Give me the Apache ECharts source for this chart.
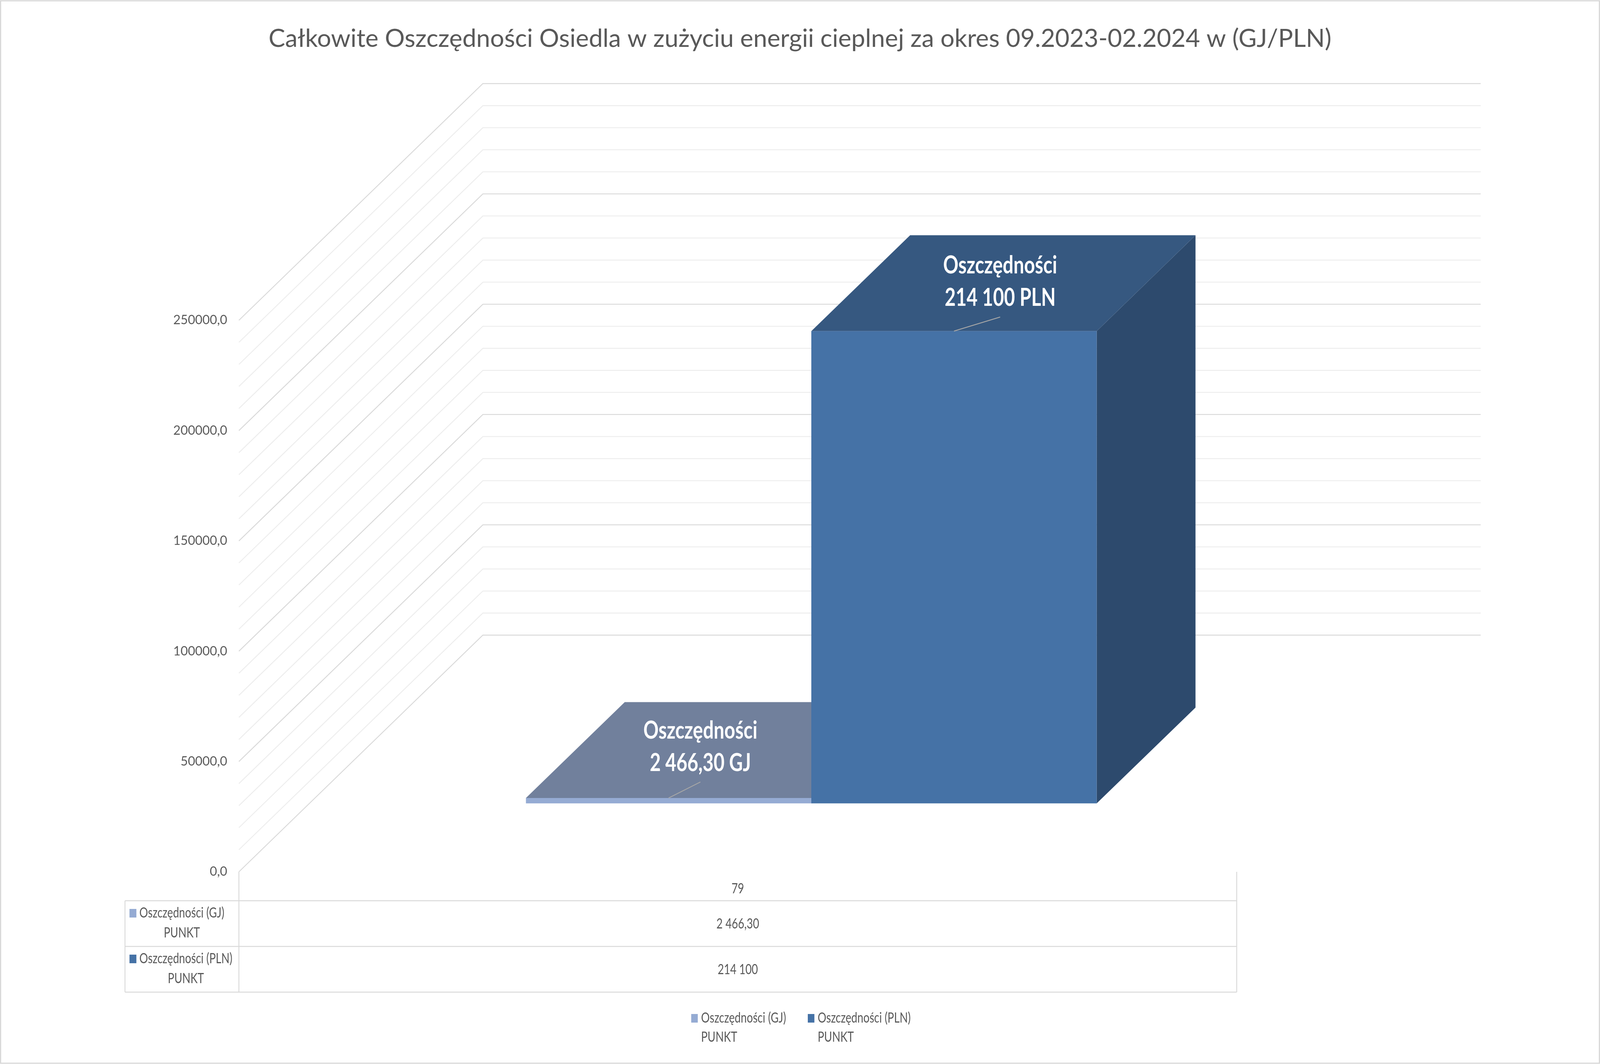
<!DOCTYPE html>
<html>
<head>
<meta charset="utf-8">
<script src="https://cdn.jsdelivr.net/npm/echarts@6/dist/echarts.min.js"></script>
<style>html,body{margin:0;padding:0;background:#fff;overflow:hidden}#c{width:100vw;height:100vh}</style>
</head>
<body>
<div id="c"></div>
<script>
// ---------- data ----------
const chartTitle = 'Całkowite Oszczędności Osiedla w zużyciu energii cieplnej za okres 09.2023-02.2024 w (GJ/PLN)';
const categories = ['79'];
const seriesNames = ['Oszczędności (GJ)', 'Oszczędności (PLN)'];
const seriesSubNames = ['PUNKT', 'PUNKT'];
const valuesGJ = [2466.30];
const valuesPLN = [214100];
const seriesUnits = ['GJ', 'PLN'];
const seriesDecimals = [2, 0];
const labelWord = 'Oszczędności';
const yMin = 0, yMax = 250000, yInterval = 50000, yMinorStep = 10000;

// ---------- layout / style (reference pixel space 5338 x 2724) ----------
const el = document.getElementById('c');
const CW = el.clientWidth || 5338, CH = el.clientHeight || 2724;
const sx = CW / 5338, sy = CH / 2724, fs = Math.min(sx, sy);
const X = v => v * sx, Y = v => v * sy, F = v => v * fs;
const TSX = sx / sy; // horizontal text squeeze so text scales like the frame

const FONT = 'Lato';
const TXT = '#595959';
const GRID_L = 797, GRID_R = 4126, GRID_T = 820, FLOOR_Y = 2232;
const DEPTH_X = X(814), DEPTH_Y = Y(-606);
const BAR_FRONT = 0.289, BAR_BACK = 0.694, BAR_W = 0.286, BAR_SHIFT = 0.003;
const COLORS = [
  {front: '#95abd3', top: '#71809c', side: '#6a80a8'},
  {front: '#4572a6', top: '#365880', side: '#2d4a6d'}
];
const LABEL_OFF = [[106, -131], [154, -126]];
const TABLE_L = 417, ROW_H = 117, ROW1_T = 2306;
const TABLE_B = ROW1_T + ROW_H * 2;
const LEG_X = [2306, 2695], LEG_Y = 2596;
const LW = Math.max(1, 3 * fs);

function fmtNum(v, d) {
  const s = v.toFixed(d);
  const parts = s.split('.');
  const ip = parts[0].replace(/\B(?=(\d{3})+(?!\d))/g, ' ');
  return parts[1] ? ip + ',' + parts[1] : ip;
}

// wall tick values derived from axis settings
const wallTicks = [];
for (let v = yMin; v <= yMax; v += yMinorStep) wallTicks.push([0, v]);

function wallRenderer(params, api) {
  const v = api.value(1);
  const cs = params.coordSys;
  const y = api.coord([0, v])[1];
  const L = cs.x, R = cs.x + cs.width;
  const major = v % yInterval === 0;
  return {
    type: 'polyline', silent: true,
    shape: {points: [[L, y], [L + DEPTH_X, y + DEPTH_Y], [R + DEPTH_X, y + DEPTH_Y]]},
    style: {stroke: major ? '#d9d9d9' : '#ededed', lineWidth: LW, fill: null}
  };
}

function barRenderer(slot, colors, labelOff, unit, dec) {
  return function (params, api) {
    const v = api.value(1);
    const base = api.coord([api.value(0), 0]);
    const top = api.coord([api.value(0), v]);
    const band = api.size([1, 0])[0];
    const w = band * BAR_W;
    const x0 = base[0] + slot * w + BAR_SHIFT * band, x1 = x0 + w;
    const fx = DEPTH_X * BAR_FRONT, fy = DEPTH_Y * BAR_FRONT;
    const bx = DEPTH_X * BAR_BACK, by = DEPTH_Y * BAR_BACK;
    const yb = base[1], yt = top[1];
    const front = [[x0 + fx, yt + fy], [x1 + fx, yt + fy], [x1 + fx, yb + fy], [x0 + fx, yb + fy]];
    const topF = [[x0 + fx, yt + fy], [x1 + fx, yt + fy], [x1 + bx, yt + by], [x0 + bx, yt + by]];
    const side = [[x1 + fx, yt + fy], [x1 + bx, yt + by], [x1 + bx, yb + by], [x1 + fx, yb + fy]];
    const cx = (x0 + x1) / 2 + fx, cy = yt + fy;
    const lx = cx + X(labelOff[0]), ly = cy + Y(labelOff[1]);
    return {
      type: 'group',
      children: [
        {type: 'polygon', shape: {points: side}, style: {fill: colors.side}},
        {type: 'polygon', shape: {points: topF}, style: {fill: colors.top}},
        {type: 'polygon', shape: {points: front}, style: {fill: colors.front}},
        {type: 'line', shape: {x1: cx, y1: cy, x2: lx, y2: ly + Y(90)}, style: {stroke: '#a6a6a6', lineWidth: LW}},
        {type: 'text', x: lx, y: ly, scaleX: TSX, style: {
          text: labelWord + '\n' + fmtNum(v, dec) + ' ' + unit,
          fill: '#ffffff', fontSize: Y(63), fontWeight: 'bold', fontFamily: FONT,
          align: 'center', verticalAlign: 'middle', lineHeight: Y(83)
        }}
      ]
    };
  };
}

// ---------- table + legend graphics built from data ----------
const allValues = [valuesGJ, valuesPLN];
const graphics = [];
const gl = {stroke: '#d9d9d9', lineWidth: LW};
const line = (x1, y1, x2, y2) => ({type: 'line', silent: true, shape: {x1: X(x1), y1: Y(y1), x2: X(x2), y2: Y(y2)}, style: gl});
const textEl = (x, y, extra) => ({type: 'text', silent: true, x: X(x), y: Y(y), scaleX: TSX,
  style: Object.assign({fill: TXT, fontSize: Y(36), fontFamily: FONT}, extra)});
graphics.push({type: 'rect', silent: true, shape: {x: X(2), y: Y(2), width: X(5334), height: Y(2720)},
  style: {fill: null, stroke: '#d9d9d9', lineWidth: Math.max(1, 4 * fs)}});
graphics.push(line(GRID_L, FLOOR_Y, GRID_L, TABLE_B));
graphics.push(line(GRID_R, FLOOR_Y, GRID_R, TABLE_B));
graphics.push(line(TABLE_L, ROW1_T, TABLE_L, TABLE_B));
for (let r = 0; r <= seriesNames.length; r++) {
  const y = ROW1_T + r * ROW_H;
  graphics.push(line(TABLE_L, y, GRID_R, y));
}
const colCenter = (GRID_L + GRID_R) / 2;
graphics.push(textEl(colCenter, (FLOOR_Y + ROW1_T) / 2 + 6, {
  text: categories[0], align: 'center', verticalAlign: 'middle', textAlign: 'center', textVerticalAlign: 'middle'}));
seriesNames.forEach((name, i) => {
  const rt = ROW1_T + i * ROW_H;
  graphics.push({type: 'rect', shape: {x: X(432), y: Y(rt + 21), width: X(23), height: Y(22)}, style: {fill: COLORS[i].front}});
  graphics.push(textEl(465, rt + 57, {
    text: '{n|' + name + '}\n{p|' + seriesSubNames[i] + '}',
    align: 'left', verticalAlign: 'middle', textAlign: 'left', textVerticalAlign: 'middle',
    rich: {
      n: {fill: TXT, color: TXT, fontSize: Y(36), fontFamily: FONT, lineHeight: Y(51)},
      p: {fill: TXT, color: TXT, fontSize: Y(36), fontFamily: FONT, lineHeight: Y(51), align: 'center'}
    }}));
  graphics.push(textEl(colCenter, rt + 59, {
    text: fmtNum(allValues[i][0], seriesDecimals[i]),
    align: 'center', verticalAlign: 'middle', textAlign: 'center', textVerticalAlign: 'middle'}));
  // legend
  graphics.push({type: 'rect', shape: {x: X(LEG_X[i]), y: Y(LEG_Y), width: X(22), height: Y(22)}, style: {fill: COLORS[i].front}});
  graphics.push(textEl(LEG_X[i] + 33, LEG_Y + 35, {
    text: name + '\n' + seriesSubNames[i], lineHeight: Y(49),
    align: 'left', verticalAlign: 'middle', textAlign: 'left', textVerticalAlign: 'middle'}));
});

const chart = echarts.init(el, null, {renderer: 'canvas'});
chart.setOption({
  backgroundColor: '#ffffff',
  animation: false,
  title: {
    text: chartTitle, left: 'center', top: Y(62),
    textStyle: {color: TXT, fontSize: F(83), fontWeight: 'normal', fontFamily: FONT}
  },
  grid: {left: X(GRID_L), right: CW - X(GRID_R), top: Y(GRID_T), bottom: CH - Y(FLOOR_Y), containLabel: false},
  xAxis: {type: 'category', data: categories, show: false},
  yAxis: {
    type: 'value', min: yMin, max: yMax, interval: yInterval,
    axisLine: {show: false}, axisTick: {show: false}, splitLine: {show: false},
    axisLabel: {
      color: TXT, fontSize: F(42), fontFamily: FONT, margin: X(39),
      formatter: v => v.toFixed(1).replace('.', ',')
    }
  },
  series: [
    {type: 'custom', name: 'walls', renderItem: wallRenderer, data: wallTicks, clip: false, silent: true, z: 1,
     encode: {x: 0, y: 1}},
    {type: 'custom', name: seriesNames[0], renderItem: barRenderer(-1, COLORS[0], LABEL_OFF[0], seriesUnits[0], seriesDecimals[0]),
     data: valuesGJ.map((v, i) => [i, v]), clip: false, z: 2, encode: {x: 0, y: 1}},
    {type: 'custom', name: seriesNames[1], renderItem: barRenderer(0, COLORS[1], LABEL_OFF[1], seriesUnits[1], seriesDecimals[1]),
     data: valuesPLN.map((v, i) => [i, v]), clip: false, z: 3, encode: {x: 0, y: 1}}
  ],
  graphic: graphics
});
</script>
</body>
</html>
